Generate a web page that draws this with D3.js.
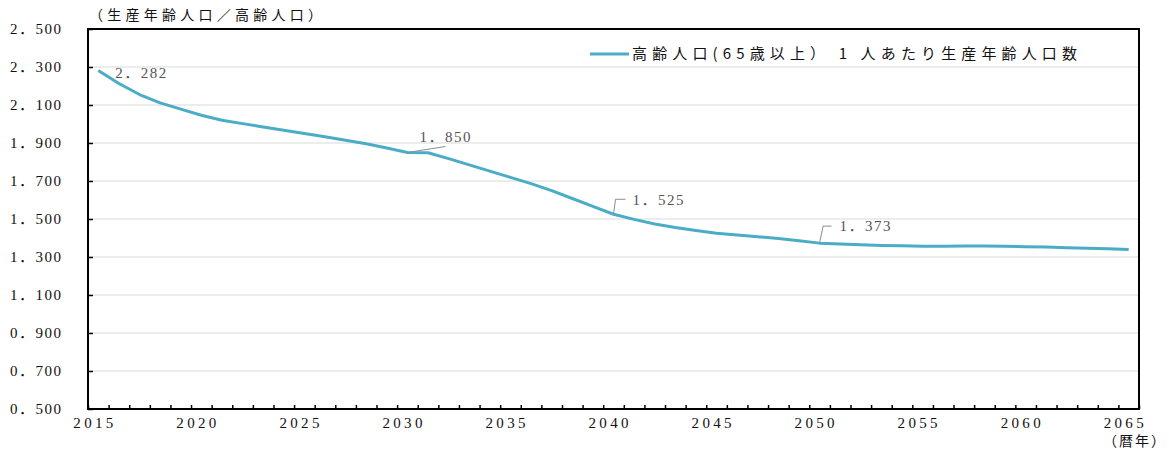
<!DOCTYPE html>
<html lang="ja">
<head>
<meta charset="utf-8">
<script src="https://cdn.jsdelivr.net/npm/d3@7/dist/d3.min.js"></script>
<style>
  html, body { margin: 0; padding: 0; background: #fff; }
  svg { display: block; }
  .num { font-family: "Liberation Serif", "DejaVu Serif", "Noto Sans CJK JP", serif; }
  .jp  { font-family: "Noto Sans CJK JP", "Noto Sans", sans-serif; }
</style>
</head>
<body>
<svg id="chart" width="1169" height="450"></svg>
<script>
// 高齢人口（65歳以上）1人あたり生産年齢人口数, 2015–2065
const years = d3.range(2015, 2066);
const ratio = [
  2.282, 2.213, 2.155, 2.111, 2.078, 2.046, 2.020, 2.002, 1.984, 1.967,
  1.950, 1.933, 1.915, 1.896, 1.874, 1.850, 1.849, 1.818, 1.785, 1.752,
  1.719, 1.686, 1.649, 1.608, 1.566, 1.525, 1.498, 1.474, 1.455, 1.439,
  1.425, 1.416, 1.407, 1.397, 1.386, 1.373, 1.368, 1.365, 1.361, 1.359,
  1.357, 1.357, 1.358, 1.358, 1.357, 1.354, 1.352, 1.349, 1.346, 1.343,
  1.340
];
const yTicks = [0.5, 0.7, 0.9, 1.1, 1.3, 1.5, 1.7, 1.9, 2.1, 2.3, 2.5];
const xLabelYears = [2015, 2020, 2025, 2030, 2035, 2040, 2045, 2050, 2055, 2060, 2065];
const labelledYears = [2015, 2030, 2040, 2050];

const titleText = "（生産年齢人口／高齢人口）";
const legendText = "高齢人口(65歳以上） 1 人あたり生産年齢人口数";
const xUnitText = "（暦年）";

const svg = d3.select("#chart");
const plot = { left: 88, right: 1139, top: 29, bottom: 409 };
const lineColor = "#4bacc6";
const fmt = v => d3.format(".3f")(v).replace(".", "．");

const x = d3.scaleBand().domain(years).range([plot.left, plot.right]).padding(0);
const xc = yr => x(yr) + x.bandwidth() / 2;
const y = d3.scaleLinear().domain([0.5, 2.5]).range([plot.bottom, plot.top]);

// horizontal gridlines
svg.append("g")
  .selectAll("line")
  .data(yTicks)
  .join("line")
  .attr("x1", plot.left).attr("x2", plot.right)
  .attr("y1", d => y(d)).attr("y2", d => y(d))
  .attr("stroke", "#d9d9d9").attr("stroke-width", 1);

// plot frame
svg.append("rect")
  .attr("x", plot.left).attr("y", plot.top)
  .attr("width", plot.right - plot.left).attr("height", plot.bottom - plot.top)
  .attr("fill", "none").attr("stroke", "#000").attr("stroke-width", 2);

// y axis: inward ticks, labels on the left
const yAxis = svg.append("g")
  .attr("transform", `translate(${plot.left},0)`)
  .call(d3.axisLeft(y).tickValues(yTicks).tickSizeInner(-5).tickSizeOuter(0).tickPadding(27).tickFormat(fmt));
yAxis.select(".domain").remove();
yAxis.selectAll(".tick line").attr("stroke", "#000").attr("stroke-width", 1.5);
yAxis.selectAll(".tick text")
  .attr("class", "num")
  .attr("font-size", 15)
  .attr("fill", "#111")
  .attr("textLength", 51)
  .attr("lengthAdjust", "spacing");

// x axis: tick marks on category boundaries
const xEdge = d3.scaleLinear().domain([0, years.length]).range([plot.left, plot.right]);
const xTickAxis = svg.append("g")
  .attr("transform", `translate(0,${plot.bottom})`)
  .call(d3.axisBottom(xEdge).tickValues(d3.range(0, years.length + 1)).tickSizeInner(-4).tickSizeOuter(0).tickFormat(""));
xTickAxis.select(".domain").remove();
xTickAxis.selectAll(".tick line").attr("stroke", "#000").attr("stroke-width", 1.5);

// x axis labels at category centres, every five years
const xLabAxis = svg.append("g")
  .attr("transform", `translate(0,${plot.bottom})`)
  .call(d3.axisBottom(x).tickValues(xLabelYears).tickSize(0).tickPadding(8).tickFormat(d3.format("d")));
xLabAxis.select(".domain").remove();
xLabAxis.selectAll(".tick text")
  .attr("class", "num")
  .attr("font-size", 15)
  .attr("fill", "#111")
  .attr("dx", -5)
  .attr("textLength", 40)
  .attr("lengthAdjust", "spacing");

// series line
const line = d3.line()
  .x((d, i) => xc(years[i]))
  .y(d => y(d));
svg.append("path")
  .datum(ratio)
  .attr("d", line)
  .attr("fill", "none")
  .attr("stroke", lineColor)
  .attr("stroke-width", 3)
  .attr("stroke-linejoin", "round")
  .attr("stroke-linecap", "butt");

// value labels with leader lines
const labelLayout = {
  2015: { tx: 17, ty: 2, leader: null },
  2030: { tx: 12, ty: -16, leader: [[0, 0], [38, -6]] },
  2040: { tx: 19, ty: -15, leader: [[0, 0], [2, -15], [12, -15]] },
  2050: { tx: 20, ty: -17, leader: [[0, 0], [3.5, -17], [12, -17]] }
};
const ann = svg.append("g");
labelledYears.forEach(yr => {
  const v = ratio[years.indexOf(yr)];
  const px = xc(yr), py = y(v);
  const L = labelLayout[yr];
  if (L.leader) {
    ann.append("path")
      .attr("d", d3.line()(L.leader.map(p => [px + p[0], py + p[1]])))
      .attr("fill", "none")
      .attr("stroke", "#8c8c8c")
      .attr("stroke-width", 1);
  }
  ann.append("text")
    .attr("class", "num")
    .attr("x", px + L.tx)
    .attr("y", py + L.ty)
    .attr("dy", "0.35em")
    .attr("font-size", 15)
    .attr("fill", "#555")
    .attr("textLength", 51)
    .attr("lengthAdjust", "spacing")
    .text(fmt(v));
});

// axis titles
svg.append("text")
  .attr("class", "jp")
  .attr("x", 89).attr("y", 15).attr("dy", "0.35em")
  .attr("font-size", 14).attr("fill", "#111")
  .attr("textLength", 233).attr("lengthAdjust", "spacing")
  .text(titleText);

svg.append("text")
  .attr("class", "jp")
  .attr("x", 1103).attr("y", 441).attr("dy", "0.35em")
  .attr("font-size", 14).attr("fill", "#111")
  .attr("textLength", 62).attr("lengthAdjust", "spacing")
  .text(xUnitText);

// legend
const legend = svg.append("g");
legend.append("line")
  .attr("x1", 590).attr("x2", 629).attr("y1", 54).attr("y2", 54)
  .attr("stroke", lineColor).attr("stroke-width", 3);
legend.append("text")
  .attr("class", "jp")
  .attr("x", 632).attr("y", 54).attr("dy", "0.35em")
  .attr("font-size", 15).attr("fill", "#111")
  .attr("textLength", 445).attr("lengthAdjust", "spacing")
  .text(legendText);
</script>
</body>
</html>
